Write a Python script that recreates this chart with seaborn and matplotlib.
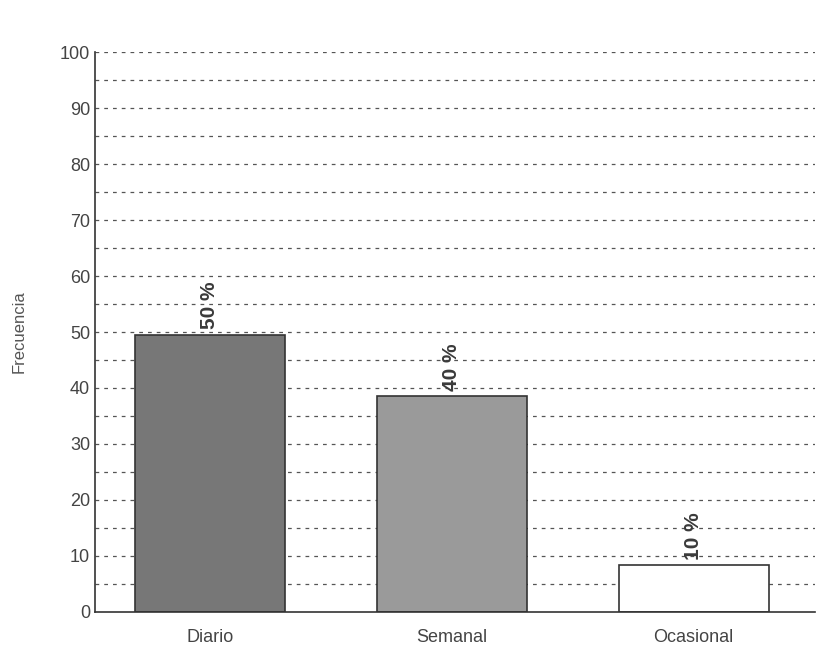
import pandas as pd
import numpy as np
import matplotlib
matplotlib.use("Agg")
import matplotlib.pyplot as plt
import seaborn as sns

categorias = ["Diario", "Semanal", "Ocasional"]
frecuencia = [49.5, 38.5, 8.3]
etiquetas = ["50 %", "40 %", "10 %"]
colores = ["#777777", "#9a9a9a", "#ffffff"]

sns.set_theme(style="white")
plt.rcParams['font.family'] = ['Liberation Sans', 'DejaVu Sans']

df = pd.DataFrame({"categoria": categorias, "frecuencia": frecuencia})

fig = plt.figure(figsize=(8.18, 6.51), dpi=100)
ax = fig.add_axes([0.116, 0.06, 0.88, 0.86])

# dashed grid every 5 units
for yv in np.arange(5, 101, 5):
    ax.axhline(yv, color="#555555", linestyle=(0, (3, 4)), linewidth=0.9, zorder=0)

sns.barplot(data=df, x="categoria", y="frecuencia", hue="categoria",
            palette=colores, legend=False, width=0.62, ax=ax,
            edgecolor="#333333", linewidth=1.2, zorder=2)

for i, (v, t) in enumerate(zip(frecuencia, etiquetas)):
    ax.text(i, v + 1.0, t, rotation=90, ha="center", va="bottom",
            fontsize=15, fontweight="bold", color="#3a3a3a")

ax.set_ylim(0, 100)
ax.set_xlim(-0.475, 2.5)
ax.set_yticks(np.arange(0, 101, 10))
ax.set_xticks([0.5, 1.5, 2.5], minor=True)
ax.tick_params(axis="x", which="major", length=0, labelsize=13, colors="#444444", pad=12)
ax.tick_params(axis="x", which="minor", length=6, width=1.1, direction="in", color="#333333")
ax.tick_params(axis="y", length=4, direction="in", labelsize=13, colors="#444444")
ax.set_xlabel("")
ax.set_ylabel("Frecuencia", fontsize=12, color="#555555", labelpad=24)

for s in ["top", "right"]:
    ax.spines[s].set_visible(False)
for s in ["left", "bottom"]:
    ax.spines[s].set_color("#333333")
    ax.spines[s].set_linewidth(1.2)

fig.savefig("out.png", dpi=100)
